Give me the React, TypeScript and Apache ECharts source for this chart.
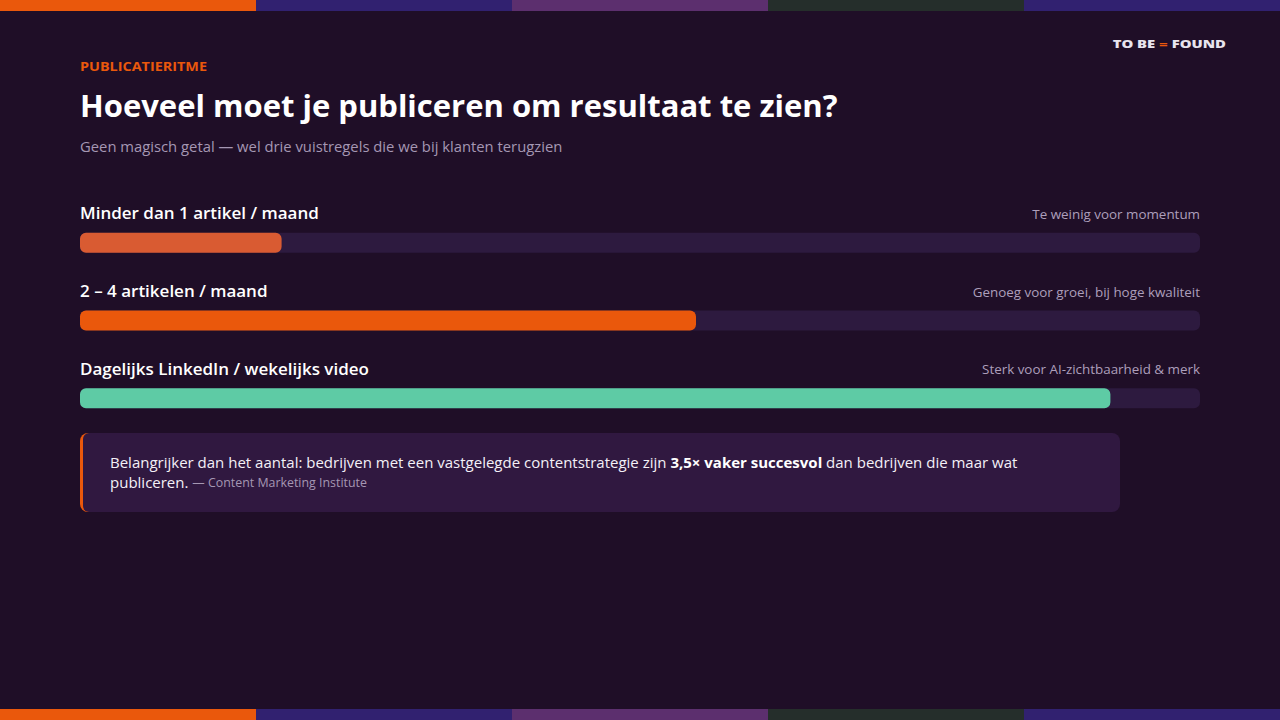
import React, { useEffect, useRef } from "react";
import * as echarts from "echarts";

const categories = [
  "Minder dan 1 artikel / maand",
  "2 – 4 artikelen / maand",
  "Dagelijks LinkedIn / wekelijks video",
];
const notes = [
  "Te weinig voor momentum",
  "Genoeg voor groei, bij hoge kwaliteit",
  "Sterk voor AI-zichtbaarheid & merk",
];
const values = [18, 55, 92];
const trackValues = [100, 100, 100];
const barColors = ["#d95b32", "#ea580c", "#5ecba5"];
const stripeColors = ["#ea580c", "#312170", "#5c2f6e", "#252e2b", "#312170"];

const FONT = "'Open Sans', sans-serif";
const BG = "#1f0e27";
const TRACK = "#2d1a3f";

export default function App() {
  const ref = useRef<HTMLDivElement>(null);
  useEffect(() => {
    if (!ref.current) return;
    const chart = echarts.init(ref.current, null, { renderer: "svg" });
    const stripes: any[] = [];
    stripeColors.forEach((c, i) => {
      stripes.push({ type: "rect", shape: { x: i * 256, y: 0, width: 256, height: 11 }, style: { fill: c }, silent: true });
      stripes.push({ type: "rect", shape: { x: i * 256, y: 709, width: 256, height: 11 }, style: { fill: c }, silent: true });
    });
    chart.setOption({
      animation: false,
      backgroundColor: BG,
      grid: { left: 80, right: 80, top: 204, height: 233 },
      xAxis: { type: "value", min: 0, max: 100, show: false },
      yAxis: { type: "category", data: categories, inverse: true, show: false },
      series: [
        {
          type: "bar",
          data: trackValues,
          barWidth: 20,
          itemStyle: { color: TRACK, borderRadius: 6 },
          silent: true,
          label: {
            show: true,
            position: ["100%", -19],
            align: "right",
            verticalAlign: "middle",
            color: "#ad9fbb",
            fontFamily: FONT,
            fontSize: 13.4,
            formatter: (p: any) => notes[p.dataIndex],
          },
        },
        {
          type: "bar",
          data: values.map((v, i) => ({ value: v, itemStyle: { color: barColors[i] } })),
          barWidth: 20,
          barGap: "-100%",
          itemStyle: { borderRadius: 6 },
          silent: true,
          label: {
            show: true,
            position: [0, -20],
            align: "left",
            verticalAlign: "middle",
            color: "#ffffff",
            fontFamily: FONT,
            fontWeight: 600,
            fontSize: 17,
            formatter: (p: any) => categories[p.dataIndex],
          },
        },
      ],
      graphic: [
        ...stripes,
        {
          type: "text",
          x: 1226,
          y: 44,
          scaleX: 1.35,
          style: {
            text: "TO BE {o|=} FOUND",
            rich: { o: { fill: "#ea580c", fontSize: 11, fontWeight: 800, fontFamily: FONT } },
            fill: "#e8e4ee",
            fontSize: 11,
            fontWeight: 800,
            fontFamily: FONT,
            align: "right",
            verticalAlign: "middle",
          },
        },
        {
          type: "text",
          x: 80,
          y: 66,
          scaleX: 1.2,
          style: {
            text: "PUBLICATIERITME",
            fill: "#ea580c",
            fontSize: 12,
            fontWeight: 700,
            fontFamily: FONT,
            verticalAlign: "middle",
          },
        },
        {
          type: "text",
          x: 80,
          y: 105,
          style: {
            text: "Hoeveel moet je publiceren om resultaat te zien?",
            fill: "#ffffff",
            fontSize: 31,
            fontWeight: 700,
            fontFamily: FONT,
            verticalAlign: "middle",
          },
        },
        {
          type: "text",
          x: 80,
          y: 146,
          style: {
            text: "Geen magisch getal — wel drie vuistregels die we bij klanten terugzien",
            fill: "#a597b3",
            fontSize: 14.8,
            fontFamily: FONT,
            verticalAlign: "middle",
          },
        },
        {
          type: "rect",
          shape: { x: 80, y: 433, width: 30, height: 79, r: [8, 0, 0, 8] },
          style: { fill: "#ea580c" },
          silent: true,
        },
        {
          type: "rect",
          shape: { x: 83, y: 433, width: 1037, height: 79, r: [6, 8, 8, 6] },
          style: { fill: "#301840" },
          silent: true,
        },
        {
          type: "text",
          x: 110,
          y: 452,
          style: {
            text:
              "Belangrijker dan het aantal: bedrijven met een vastgelegde contentstrategie zijn {b|3,5× vaker succesvol} dan bedrijven die maar wat\npubliceren. {s|— Content Marketing Institute}",
            fill: "#f4f0f7",
            fontSize: 15,
            lineHeight: 20,
            fontFamily: FONT,
            rich: {
              b: { fontWeight: 700, fill: "#ffffff", fontSize: 15, lineHeight: 20, fontFamily: FONT },
              s: { fill: "#a597b3", fontSize: 12.4, lineHeight: 20, fontFamily: FONT },
            },
          },
        },
      ],
    });
    return () => chart.dispose();
  }, []);
  return (
    <div
      ref={ref}
      style={{ position: "fixed", left: 0, top: 0, width: 1280, height: 720, background: BG }}
    />
  );
}
